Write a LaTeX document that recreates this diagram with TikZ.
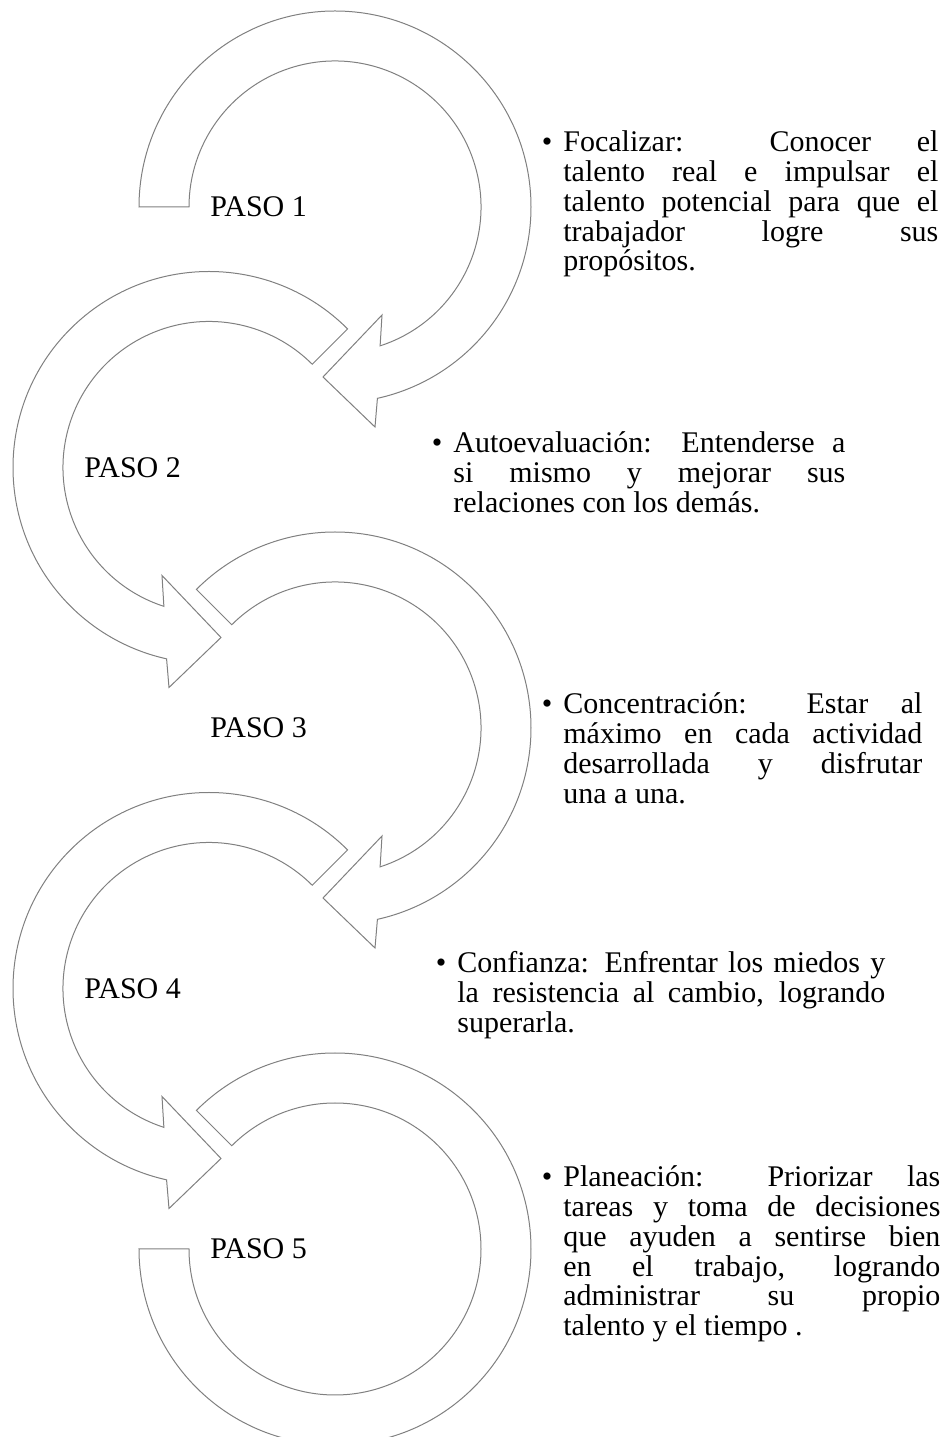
\documentclass[tikz,border=0pt]{standalone}
\usepackage{fontspec}
\setmainfont{Liberation Serif}
% one justified line, spread over the full width of its box
\newcommand\justline[1]{\makebox[\linewidth][s]{#1}}
\newcommand\bul{\leavevmode\llap{•\hspace{5.5pt}}}
\begin{document}
\begin{tikzpicture}[x=0.5pt,y=0.5pt,
  flecha/.style={draw=black!50, line width=0.5pt, fill=white, line join=miter},
  paso/.style={anchor=west, inner sep=0pt, font=\fontsize{15pt}{14.85pt}\selectfont},
  texto/.style={anchor=base west, inner sep=0pt, font=\fontsize{15pt}{14.85pt}\selectfont}]
\clip (0,0) rectangle (946,1437);

% step 1: clockwise arc from the flat end on the left to the arrowhead
\begin{scope}[shift={(335,1230)}]
  \draw[flecha] (180:196) arc[start angle=180, end angle=-77.5, radius=196]
    -- (40,-220) -- (-12,-170) -- (47,-108) -- (-72:146)
    arc[start angle=-72, end angle=180, radius=146] -- cycle;
\end{scope}

% step 2: counter-clockwise arc
\begin{scope}[shift={(209,969.5)}]
  \draw[flecha] (45:196) arc[start angle=45, end angle=257.5, radius=196]
    -- (-40,-220) -- (12,-170) -- (-47,-108) -- (252:146)
    arc[start angle=252, end angle=45, radius=146] -- cycle;
\end{scope}

% step 3: clockwise arc
\begin{scope}[shift={(335,709)}]
  \draw[flecha] (135:196) arc[start angle=135, end angle=-77.5, radius=196]
    -- (40,-220) -- (-12,-170) -- (47,-108) -- (-72:146)
    arc[start angle=-72, end angle=135, radius=146] -- cycle;
\end{scope}

% step 4: counter-clockwise arc
\begin{scope}[shift={(209,448.5)}]
  \draw[flecha] (45:196) arc[start angle=45, end angle=257.5, radius=196]
    -- (-40,-220) -- (12,-170) -- (-47,-108) -- (252:146)
    arc[start angle=252, end angle=45, radius=146] -- cycle;
\end{scope}

% step 5: open ring without arrowhead
\begin{scope}[shift={(335,188)}]
  \draw[flecha] (135:196) arc[start angle=135, end angle=-180, radius=196]
    -- (180:146) arc[start angle=-180, end angle=135, radius=146] -- cycle;
\end{scope}

% step labels
\node[paso] (p1) at (210,1230) {PASO 1};
\node[paso] (p2) at (84,969.5) {PASO 2};
\node[paso] (p3) at (210,709) {PASO 3};
\node[paso] (p4) at (84,448.5) {PASO 4};
\node[paso] (p5) at (210,188) {PASO 5};

% descriptions
\node[texto] (t1) at (563,1285) {\parbox[t]{187.5pt}{\bul
  \justline{Focalizar: Conocer el}\\
  \justline{talento real e impulsar el}\\
  \justline{talento potencial para que el}\\
  \justline{trabajador logre sus}\\
  propósitos.}};

\node[texto] (t2) at (453,984) {\parbox[t]{196pt}{\bul
  \justline{Autoevaluación: Entenderse a}\\
  \justline{si mismo y mejorar sus}\\
  relaciones con los demás.}};

\node[texto] (t3) at (563,723) {\parbox[t]{179.5pt}{\bul
  \justline{Concentración: Estar al}\\
  \justline{máximo en cada actividad}\\
  \justline{desarrollada y disfrutar}\\
  una a una.}};

\node[texto] (t4) at (457,464) {\parbox[t]{214pt}{\bul
  \justline{Confianza: Enfrentar los miedos y}\\
  \justline{la resistencia al cambio, logrando}\\
  superarla.}};

\node[texto] (t5) at (563,250) {\parbox[t]{188.5pt}{\bul
  \justline{Planeación: Priorizar las}\\
  \justline{tareas y toma de decisiones}\\
  \justline{que ayuden a sentirse bien}\\
  \justline{en el trabajo, logrando}\\
  \justline{administrar su propio}\\
  talento y el tiempo .}};
\end{tikzpicture}
\end{document}
